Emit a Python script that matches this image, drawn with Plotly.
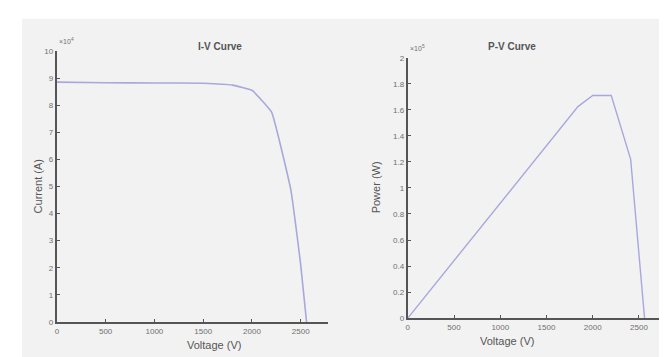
import plotly.graph_objects as go

# ---- data ----
iv_voltage = [0, 500, 1000, 1500, 1800, 2000, 2200, 2400, 2500, 2560]
iv_current = [8.85, 8.83, 8.82, 8.81, 8.74, 8.55, 7.75, 4.85, 2.1, 0]      # x10^4 A

pv_voltage = [0, 1840, 2000, 2200, 2410, 2560]
pv_power = [0, 1.625, 1.71, 1.71, 1.22, 0]                                # x10^5 W

x_ticks = [0, 500, 1000, 1500, 2000, 2500]
iv_y_ticks = [0, 1, 2, 3, 4, 5, 6, 7, 8, 9, 10]
pv_y_ticks = [0, 0.2, 0.4, 0.6, 0.8, 1, 1.2, 1.4, 1.6, 1.8, 2]
pv_y_labels = ["0", "0.2", "0.4", "0.6", "0.8", "1", "1.2", "1.4", "1.6", "1.8", "2"]

W, H = 667, 357
BG = "#f2f2f2"
AX = "#555555"
TXT = "#707070"
LINE = "#a8a8dc"
FONT = "Liberation Sans, Arial, sans-serif"

def px(x):
    return x / W

def py(y):
    return 1 - y / H

fig = go.Figure()
fig.add_trace(go.Scatter(x=iv_voltage, y=iv_current, mode="lines",
                         line=dict(color=LINE, width=1.6, shape="spline", smoothing=0.3),
                         xaxis="x", yaxis="y", showlegend=False, hoverinfo="skip"))
fig.add_trace(go.Scatter(x=pv_voltage, y=pv_power, mode="lines",
                         line=dict(color=LINE, width=1.4), xaxis="x2", yaxis="y2",
                         showlegend=False, hoverinfo="skip"))

axis_common = dict(showgrid=False, zeroline=False, showline=True, linecolor=AX,
                   linewidth=2, ticks="inside", ticklen=3, tickwidth=1, tickcolor=AX,
                   tickfont=dict(size=8, color=TXT, family=FONT), mirror=False,
                   fixedrange=True)

fig.update_layout(
    width=W, height=H,
    margin=dict(l=0, r=0, t=0, b=0),
    paper_bgcolor="white",
    plot_bgcolor=BG,
    showlegend=False,
    font=dict(family=FONT, color=TXT),
    xaxis=dict(domain=[px(47), px(319)], range=[0, 2780], anchor="y",
               tickvals=x_ticks, **axis_common),
    yaxis=dict(domain=[py(318), py(40)], range=[0, 10], anchor="x",
               tickvals=iv_y_ticks, **axis_common),
    xaxis2=dict(domain=[px(399), px(655)], range=[0, 2760], anchor="y2",
                tickvals=x_ticks, **axis_common),
    yaxis2=dict(domain=[py(314), py(47)], range=[0, 2], anchor="x2",
                tickvals=pv_y_ticks, ticktext=pv_y_labels, **axis_common),
    shapes=[
        dict(type="rect", xref="paper", yref="paper", layer="below",
             x0=px(12), x1=px(662), y0=py(355), y1=py(7),
             fillcolor=BG, line=dict(width=0)),
    ],
    annotations=[
        dict(text="<b>I-V Curve</b>", x=px(187), y=py(28), xref="paper", yref="paper",
             showarrow=False, font=dict(size=10, color="#555555")),
        dict(text="<b>P-V Curve</b>", x=px(530), y=py(28), xref="paper", yref="paper",
             showarrow=False, font=dict(size=10, color="#555555")),
        dict(text="Current (A)", x=px(21), y=py(179), xref="paper", yref="paper",
             showarrow=False, textangle=-90, font=dict(size=11, color="#555555")),
        dict(text="Power (W)", x=px(368), y=py(180), xref="paper", yref="paper",
             showarrow=False, textangle=-90, font=dict(size=11, color="#555555")),
        dict(text="Voltage (V)", x=px(176), y=py(350), xref="paper", yref="paper",
             showarrow=False, font=dict(size=11, color="#555555")),
        dict(text="Voltage (V)", x=px(528), y=py(346), xref="paper", yref="paper",
             showarrow=False, font=dict(size=11, color="#555555")),
        dict(text="×10<sup>4</sup>", x=px(47), y=py(36), xref="paper", yref="paper",
             xanchor="left", yanchor="bottom", showarrow=False,
             font=dict(size=7, color=TXT)),
        dict(text="×10<sup>5</sup>", x=px(399), y=py(43), xref="paper", yref="paper",
             xanchor="left", yanchor="bottom", showarrow=False,
             font=dict(size=7, color=TXT)),
    ],
)

fig.write_html("out.html")
